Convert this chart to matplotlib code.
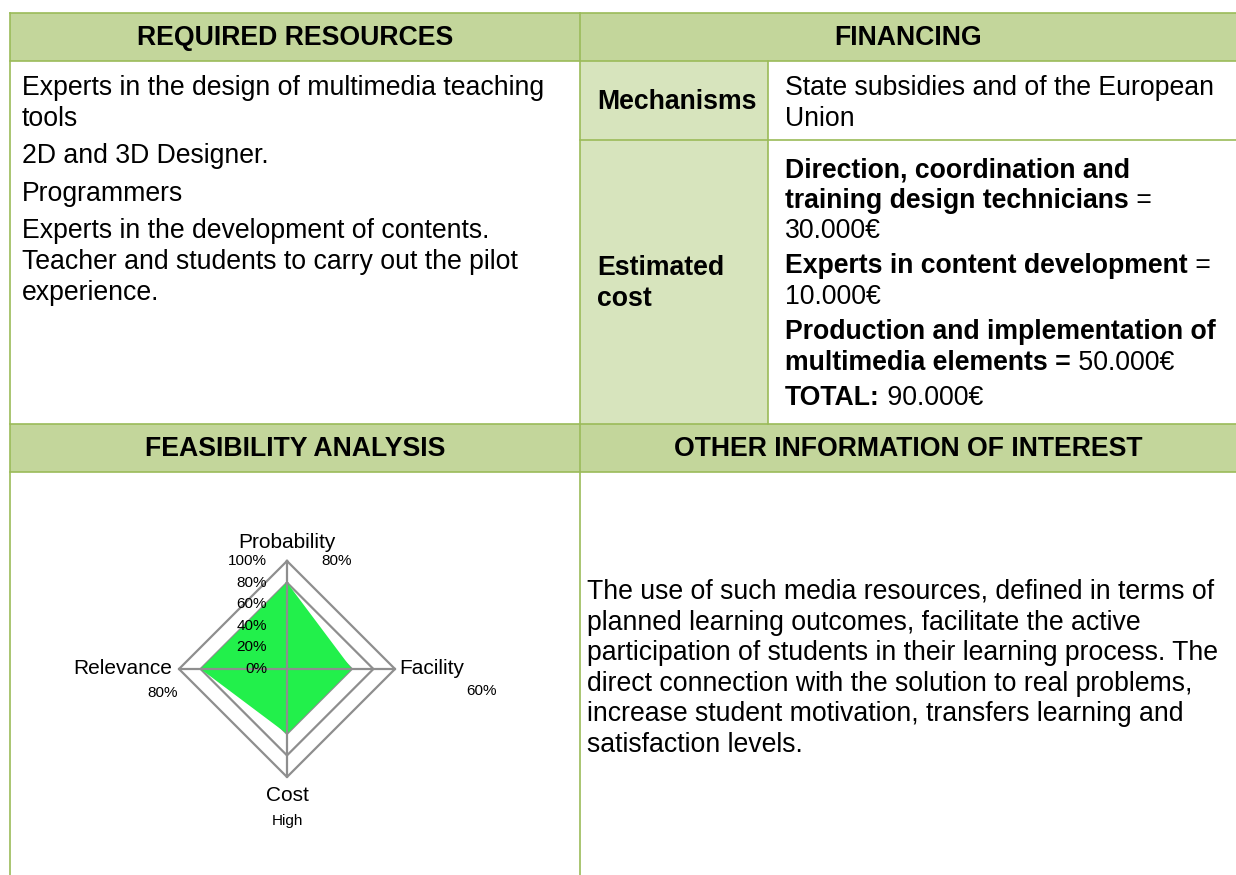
import numpy as np
import matplotlib.pyplot as plt
from matplotlib.patches import Rectangle

plt.rcParams['font.family'] = ['Liberation Sans', 'DejaVu Sans']

# radar chart data (feasibility analysis)
radar_axes = ['Probability', 'Facility', 'Cost', 'Relevance']
radar_scores = [80, 60, 60, 80]
radar_value_labels = ['80%', '60%', 'High', '80%']
radar_ticks = [0, 20, 40, 60, 80, 100]

# table text
headers_top = ['REQUIRED RESOURCES', 'FINANCING']
headers_mid = ['FEASIBILITY ANALYSIS', 'OTHER INFORMATION OF INTEREST']
# each paragraph is a list of lines
resources = [
    ['Experts in the design of multimedia teaching', 'tools'],
    ['2D and 3D Designer.'],
    ['Programmers'],
    ['Experts in the development of contents.',
     'Teacher and students to carry out the pilot', 'experience.'],
]
mechanisms = ['State subsidies and of the European', 'Union']
# paragraphs of (bold part, regular part) lines
costs = [
    [('Direction, coordination and', ''),
     ('training design technicians', ' = '),
     ('', '30.000€')],
    [('Experts in content development', ' ='),
     ('', '10.000€')],
    [('Production and implementation of', ''),
     ('multimedia elements =', ' 50.000€')],
    [('TOTAL:', ' 90.000€')],
]
other_info = [
    'The use of such media resources, defined in terms of',
    'planned learning outcomes, facilitate the active',
    'participation of students in their learning process. The',
    'direct connection with the solution to real problems,',
    'increase student motivation, transfers learning and',
    'satisfaction levels.',
]

W, H = 1236, 875
HEAD = '#C3D69B'
LABEL = '#D7E4BD'
BORDER = '#9BBB59'
FS = 19.2
LINE = 30.6      # line pitch in px

fig = plt.figure(figsize=(W / 100, H / 100), dpi=100)
ax = fig.add_axes([0, 0, 1, 1])
ax.set_xlim(0, W)
ax.set_ylim(H, 0)
ax.axis('off')

x0, xc, xs, x1 = 10, 580, 768, 1245
y0, yh, ym, yb, yh2, y1 = 13, 61, 140, 424, 472, 880

ax.add_patch(Rectangle((x0, y0), x1 - x0, yh - y0, fc=HEAD, ec='none'))
ax.add_patch(Rectangle((x0, yb), x1 - x0, yh2 - yb, fc=HEAD, ec='none'))
ax.add_patch(Rectangle((xc, yh), xs - xc, yb - yh, fc=LABEL, ec='none'))

lw = 1.2
for y in [y0, yh, yb, yh2]:
    ax.plot([x0, x1], [y, y], color=BORDER, lw=lw)
ax.plot([xc, x1], [ym, ym], color=BORDER, lw=lw)
for x in [x0, xc]:
    ax.plot([x, x], [y0, y1], color=BORDER, lw=lw)
ax.plot([xs, xs], [yh, yb], color=BORDER, lw=lw)

# headers
for txt, cx in zip(headers_top, [(x0 + xc) / 2, (xc + 1236) / 2]):
    ax.text(cx, (y0 + yh) / 2 + 1, txt, fontsize=FS, fontweight='bold',
            ha='center', va='center')
for txt, cx in zip(headers_mid, [(x0 + xc) / 2, (xc + 1236) / 2]):
    ax.text(cx, (yb + yh2) / 2 + 1, txt, fontsize=FS, fontweight='bold',
            ha='center', va='center')

# required resources
y = 95
for para in resources:
    for line in para:
        ax.text(22, y, line, fontsize=FS, va='baseline')
        y += LINE
    y += 7

# financing
ax.text(xc + 17, 102, 'Mechanisms', fontsize=FS, fontweight='bold', va='center')
for i, txt in enumerate(mechanisms):
    ax.text(xs + 17, 95 + i * LINE, txt, fontsize=FS, va='baseline')
ax.text(xc + 17, 275, 'Estimated', fontsize=FS, fontweight='bold', va='baseline')
ax.text(xc + 17, 275 + LINE, 'cost', fontsize=FS, fontweight='bold', va='baseline')

y = 177
for para in costs:
    for b, r in para:
        if b:
            t = ax.text(xs + 17, y, b, fontsize=FS, fontweight='bold', va='baseline')
            if r:
                ax.annotate(r, xy=(1, 0), xycoords=t, fontsize=FS, va='bottom')
        else:
            ax.text(xs + 17, y, r, fontsize=FS, va='baseline')
        y += LINE
    y += 4.5

# other information
for i, txt in enumerate(other_info):
    ax.text(587, 599 + i * LINE, txt, fontsize=FS, va='baseline')

# radar chart
cx, cy, R = 287, 669, 108
side = 3 * R
rax = fig.add_axes([(cx - side / 2) / W, (H - cy - side / 2) / H, side / W, side / H])
rax.set_xlim(-150, 150)
rax.set_ylim(-150, 150)
rax.axis('off')

ang = np.deg2rad([90, 0, -90, 180])
GREY = '#8E8E8E'
for tk in radar_ticks[1:]:
    px = np.append(tk * np.cos(ang), tk * np.cos(ang[0]))
    py = np.append(tk * np.sin(ang), tk * np.sin(ang[0]))
    rax.plot(px, py, color=GREY, lw=1.6, zorder=1)

sc = np.array(radar_scores)
rax.fill(sc * np.cos(ang), sc * np.sin(ang), color='#22F04B', lw=0, zorder=2)
for a in ang:
    rax.plot([0, 100 * np.cos(a)], [0, 100 * np.sin(a)], color=GREY, lw=1.6, zorder=3)

for tk in radar_ticks:
    rax.text(-18.5, tk, f'{tk}%', fontsize=11, ha='right', va='center', zorder=4)

rax.text(0, 116.7, radar_axes[0], fontsize=15, ha='center', va='center')
rax.text(103.7, 0, radar_axes[1], fontsize=15, ha='left', va='center')
rax.text(0, -116.7, radar_axes[2], fontsize=15, ha='center', va='center')
rax.text(-106.5, 0, radar_axes[3], fontsize=15, ha='right', va='center')

val_pos = [(46, 100), (180.5, -20.4), (0, -140.7), (-114.8, -22.2)]
for lab, (vx, vy) in zip(radar_value_labels, val_pos):
    rax.text(vx, vy, lab, fontsize=11, ha='center', va='center')

fig.savefig('out.png', dpi=100)
